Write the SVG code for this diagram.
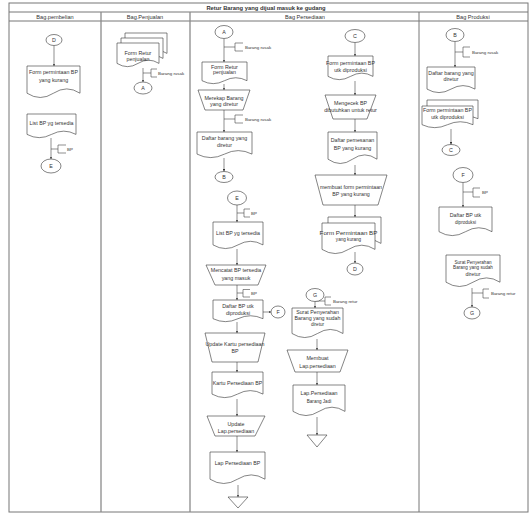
<svg xmlns="http://www.w3.org/2000/svg" width="531" height="515" viewBox="0 0 531 515">
<style>
text{font-family:"Liberation Sans",Arial,sans-serif;fill:#333;text-anchor:middle;font-size:5.3px}
.t{font-size:5.8px;font-weight:bold}
.h{font-size:5.6px}
.s{font-size:4.6px}
.a{font-size:4.4px;text-anchor:start}
.n{fill:#fff;stroke:#333;stroke-width:0.6}
.c{fill:none;stroke:#444;stroke-width:0.6}
.f{fill:none;stroke:#777;stroke-width:1}
.d{fill:none;stroke:#8a8a8a;stroke-width:1.3}
</style>
<defs>
<marker id="ar" viewBox="0 0 6 6" refX="6" refY="3" markerWidth="4" markerHeight="4" orient="auto"><path d="M0 0L6 3L0 6Z" fill="#333"/></marker>
</defs>
<rect width="531" height="515" fill="#fff"/>
<g id="frame">
<rect class="f" x="9" y="3" width="519" height="509"/>
<line class="f" x1="9" y1="12" x2="528" y2="12"/>
<line class="f" x1="9" y1="21" x2="528" y2="21"/>
<line class="d" x1="101" y1="12" x2="101" y2="512"/>
<line class="d" x1="190" y1="12" x2="190" y2="512"/>
<line class="f" x1="419" y1="12" x2="419" y2="512"/>
<text class="t" x="266" y="10">Retur Barang yang dijual masuk ke gudang</text>
<text class="h" x="55" y="18.5">Bag.pembelian</text>
<text class="h" x="145" y="18.5">Bag.Penjualan</text>
<text class="h" x="305" y="18.5">Bag Persediaan</text>
<text class="h" x="473" y="18.5">Bag Produksi</text>
</g>
<g id="connectors">
<line class="c" x1="54" y1="45.5" x2="54" y2="66" marker-end="url(#ar)"/>
<line class="c" x1="51" y1="138" x2="51" y2="159" marker-end="url(#ar)"/>
<line class="c" x1="143" y1="68" x2="143" y2="82" marker-end="url(#ar)"/>
<line class="c" x1="224" y1="38.5" x2="224" y2="62" marker-end="url(#ar)"/>
<line class="c" x1="224" y1="84" x2="224" y2="90" marker-end="url(#ar)"/>
<line class="c" x1="224" y1="110" x2="224" y2="132" marker-end="url(#ar)"/>
<line class="c" x1="224" y1="158" x2="224" y2="171.5" marker-end="url(#ar)"/>
<line class="c" x1="237" y1="205" x2="237" y2="222" marker-end="url(#ar)"/>
<line class="c" x1="237" y1="249" x2="237" y2="265" marker-end="url(#ar)"/>
<line class="c" x1="237" y1="285" x2="237" y2="300" marker-end="url(#ar)"/>
<line class="c" x1="263" y1="312" x2="271" y2="312" marker-end="url(#ar)"/>
<line class="c" x1="237" y1="322" x2="237" y2="333" marker-end="url(#ar)"/>
<line class="c" x1="237" y1="362" x2="237" y2="372" marker-end="url(#ar)"/>
<line class="c" x1="237" y1="399" x2="237" y2="416" marker-end="url(#ar)"/>
<line class="c" x1="237" y1="436" x2="237" y2="452" marker-end="url(#ar)"/>
<line class="c" x1="238" y1="485" x2="238" y2="497" marker-end="url(#ar)"/>
<line class="c" x1="355" y1="42.5" x2="355" y2="56" marker-end="url(#ar)"/>
<line class="c" x1="355" y1="81" x2="355" y2="95" marker-end="url(#ar)"/>
<line class="c" x1="355" y1="119" x2="355" y2="132" marker-end="url(#ar)"/>
<line class="c" x1="355" y1="165" x2="355" y2="175" marker-end="url(#ar)"/>
<line class="c" x1="355" y1="205" x2="355" y2="217" marker-end="url(#ar)"/>
<line class="c" x1="355" y1="252" x2="355" y2="263" marker-end="url(#ar)"/>
<line class="c" x1="315" y1="301.5" x2="315" y2="308" marker-end="url(#ar)"/>
<line class="c" x1="317" y1="339" x2="317" y2="350" marker-end="url(#ar)"/>
<line class="c" x1="317" y1="372" x2="317" y2="385" marker-end="url(#ar)"/>
<line class="c" x1="317" y1="417" x2="317" y2="435" marker-end="url(#ar)"/>
<line class="c" x1="455" y1="41.5" x2="455" y2="67" marker-end="url(#ar)"/>
<line class="c" x1="451" y1="129" x2="451" y2="144.5" marker-end="url(#ar)"/>
<line class="c" x1="463" y1="182.5" x2="463" y2="207" marker-end="url(#ar)"/>
<line class="c" x1="472" y1="288" x2="472" y2="307" marker-end="url(#ar)"/>
</g>
<g id="annotations">
<path class="c" d="M51 149H58M66 145H58V153H66"/><text class="a" x="67" y="150.5">BP</text>
<path class="c" d="M143 73H151M157 69H151V77H157"/><text class="a" x="158" y="74.5">Barang rusak</text>
<path class="c" d="M224 47H235M243 43H235V51H243"/><text class="a" x="245" y="48.5">Barang rusak</text>
<path class="c" d="M224 119H235M243 115H235V123H243"/><text class="a" x="245" y="120.5">Barang rusak</text>
<path class="c" d="M237 213H244M250 209H244V217H250"/><text class="a" x="251" y="214.5">BP</text>
<path class="c" d="M237 293H243M250 289.5H243V297H250"/><text class="a" x="251" y="294.5">BP</text>
<path class="c" d="M315 301H325M331 297H325V305H331"/><text class="a" x="333" y="302.5">Barang retur</text>
<path class="c" d="M455 52H463M470 47H463V57H470"/><text class="a" x="472" y="53.5">Barang rusak</text>
<path class="c" d="M463 192H473M480 188H473V197H480"/><text class="a" x="482" y="193.5">BP</text>
<path class="c" d="M472 293H483M489 289H483V298H489"/><text class="a" x="491" y="294.5">Barang retur</text>
</g>
<g id="pemb-D"><ellipse class="n" cx="54" cy="40" rx="8" ry="5.5"/><text x="54" y="42">D</text></g>
<g id="pemb-form"><path class="n" d="M27 66H80V93.2Q66.75 84.6 53.5 93.2Q40.25 101.8 27 93.2Z"/><text x="53.5" y="73.5">Form permintaan BP</text><text x="53.5" y="81.5">yang kurang</text></g>
<g id="pemb-list"><path class="n" d="M27 114H76V134.4Q63.75 127.9 51.5 134.4Q39.25 140.9 27 134.4Z"/><text x="51.5" y="125">List BP yg tersedia</text></g>
<g id="pemb-E"><ellipse class="n" cx="51" cy="166" rx="10" ry="7"/><text x="51" y="168">E</text></g>
<g id="penj-form">
<path class="n" d="M125 33H167V53.4Q156.5 46.9 146 53.4Q135.5 59.9 125 53.4Z"/>
<path class="n" d="M121 38H163V58.4Q152.5 51.9 142 58.4Q131.5 64.9 121 58.4Z"/>
<path class="n" d="M117 43H159V63.4Q148.5 56.9 138 63.4Q127.5 69.9 117 63.4Z"/>
<text x="138" y="55">Form Retur</text><text x="138" y="61">penjualan</text></g>
<g id="penj-A"><ellipse class="n" cx="143" cy="88" rx="9" ry="6"/><text x="143" y="90">A</text></g>
<g id="pers-A"><ellipse class="n" cx="224" cy="32" rx="9" ry="6.5"/><text x="224" y="34">A</text></g>
<g id="pers-formretur"><path class="n" d="M202 62H247V80.7Q235.75 74.8 224.5 80.7Q213.25 86.6 202 80.7Z"/><text x="224.5" y="68.5">Form Retur</text><text x="224.5" y="74">penjualan</text></g>
<g id="pers-merekap"><path class="n" d="M198 90H250L243 110H205Z"/><text x="224" y="99.5">Merekap Barang</text><text x="224" y="105.5">yang diretur</text></g>
<g id="pers-daftar"><path class="n" d="M197 132H252V154.1Q238.25 147.1 224.5 154.1Q210.75 161.1 197 154.1Z"/><text x="224.5" y="140">Daftar barang yang</text><text x="224.5" y="147">diretur</text></g>
<g id="pers-B"><ellipse class="n" cx="224" cy="177" rx="9" ry="5.5"/><text x="224" y="179">B</text></g>
<g id="pers-E"><ellipse class="n" cx="237" cy="198" rx="9.5" ry="7"/><text x="237" y="200">E</text></g>
<g id="pers-list"><path class="n" d="M213 222H263V244.9Q250.5 237.7 238 244.9Q225.5 252.2 213 244.9Z"/><text x="238" y="235">List BP yg tersedia</text></g>
<g id="pers-mencatat"><path class="n" d="M206 265H266L258 285H215Z"/><text x="236" y="272">Mencatat BP tersedia</text><text x="236" y="279.5">yang masuk</text></g>
<g id="pers-daftarBP"><path class="n" d="M213 300H263V318.7Q250.5 312.8 238 318.7Q225.5 324.6 213 318.7Z"/><text x="238" y="307.5">Daftar BP utk</text><text x="238" y="315">diproduksi</text></g>
<g id="pers-F"><ellipse class="n" cx="278" cy="312" rx="7" ry="6"/><text x="278" y="314">F</text></g>
<g id="pers-updatekartu"><path class="n" d="M205 333H265L258 362H212Z"/><text x="235" y="345.5">Update Kartu persediaan</text><text x="235" y="353">BP</text></g>
<g id="pers-kartu"><path class="n" d="M212 372H263V394.1Q250.25 387.1 237.5 394.1Q224.75 401.1 212 394.1Z"/><text x="237.5" y="385">Kartu Persediaan BP</text></g>
<g id="pers-updatelap"><path class="n" d="M207 416H265L255 436H215Z"/><text x="236" y="426">Update</text><text x="236" y="433">Lap.persediaan</text></g>
<g id="pers-lap"><path class="n" d="M210 452H265V479.2Q251.25 470.6 237.5 479.2Q223.75 487.8 210 479.2Z"/><text x="237.5" y="465">Lap Persediaan BP</text></g>
<g id="pers-end1"><path class="n" d="M228 497H248L238 508Z"/></g>
<g id="pers-C"><ellipse class="n" cx="355" cy="36" rx="10" ry="6.5"/><text x="355" y="38">C</text></g>
<g id="pers-formBP"><path class="n" d="M328 56H373V76.4Q361.75 69.9 350.5 76.4Q339.25 82.9 328 76.4Z"/><text x="350.5" y="65">Form permintaan BP</text><text x="350.5" y="71.5">utk diproduksi</text></g>
<g id="pers-mengecek"><path class="n" d="M325 95H376L367 119H333Z"/><text x="350.5" y="105">Mengecek BP</text><text x="350.5" y="111.5">dibutuhkan untuk retur</text></g>
<g id="pers-daftarpemesanan"><path class="n" d="M328 132H377V159.2Q364.75 150.6 352.5 159.2Q340.25 167.8 328 159.2Z"/><text x="352.5" y="142">Daftar pemesanan</text><text x="352.5" y="150">BP yang kurang</text></g>
<g id="pers-membuatform"><path class="n" d="M315 175H387L378 205H323Z"/><text x="351" y="188.5">membuat form permintaan</text><text x="351" y="195.5">BP yang kurang</text></g>
<g id="pers-formpermintaan">
<path class="n" d="M328 217H381V243.4Q367.75 235 354.5 243.4Q341.25 251.7 328 243.4Z"/>
<path class="n" d="M322 223H375V249.4Q361.75 241 348.5 249.4Q335.25 257.7 322 249.4Z"/>
<text x="348.5" y="235" style="font-size:6.2px">Form Permintaan BP</text><text class="s" x="348.5" y="241">yang kurang</text></g>
<g id="pers-D"><ellipse class="n" cx="355" cy="269" rx="8" ry="6"/><text x="355" y="271">D</text></g>
<g id="pers-G"><ellipse class="n" cx="315" cy="295" rx="9" ry="6.5"/><text x="315" y="297">G</text></g>
<g id="pers-surat"><path class="n" d="M292 308H343V333.5Q330.25 325.4 317.5 333.5Q304.75 341.6 292 333.5Z"/><text x="317.5" y="314">Surat Penyerahan</text><text x="317.5" y="319.5">Barang yang sudah</text><text class="s" x="317.5" y="325.5">diretur</text></g>
<g id="pers-membuatlap"><path class="n" d="M287 350H348L340 372H295Z"/><text x="317.5" y="359.5">Membuat</text><text x="317.5" y="368">Lap.persediaan</text></g>
<g id="pers-lapjadi"><path class="n" d="M293 385H345V411.4Q332 403 319 411.4Q306 419.7 293 411.4Z"/><text x="319" y="395">Lap.Persediaan</text><text class="s" x="319" y="402.5">Barang Jadi</text></g>
<g id="pers-end2"><path class="n" d="M307 435H327L317 447Z"/></g>
<g id="prod-B"><ellipse class="n" cx="455" cy="35" rx="9" ry="6.5"/><text x="455" y="37">B</text></g>
<g id="prod-daftar"><path class="n" d="M427 67H475V89.1Q463 82.1 451 89.1Q439 96.1 427 89.1Z"/><text x="451" y="75">Daftar barang yang</text><text x="451" y="81">diretur</text></g>
<g id="prod-formBP">
<path class="n" d="M427 100H478V118.7Q465.25 112.8 452.5 118.7Q439.75 124.6 427 118.7Z"/>
<path class="n" d="M422 106H473V124.7Q460.25 118.8 447.5 124.7Q434.75 130.6 422 124.7Z"/>
<text x="447.5" y="112">Form permintaan BP</text><text x="447.5" y="119">utk diproduksi</text></g>
<g id="prod-C"><ellipse class="n" cx="451" cy="150" rx="9" ry="5.5"/><text x="451" y="152">C</text></g>
<g id="prod-F"><ellipse class="n" cx="463" cy="175" rx="10" ry="7.5"/><text x="463" y="177">F</text></g>
<g id="prod-daftarBP"><path class="n" d="M439 207H492V231.7Q478.75 223.8 465.5 231.7Q452.25 239.5 439 231.7Z"/><text x="465.5" y="217">Daftar BP utk</text><text class="s" x="465.5" y="224">diproduksi</text></g>
<g id="prod-surat"><path class="n" d="M446 255H500V282.2Q486.5 273.6 473 282.2Q459.5 290.8 446 282.2Z"/><text class="s" x="473" y="263.5">Surat Penyerahan</text><text class="s" x="473" y="269">Barang yang sudah</text><text x="473" y="276">diretur</text></g>
<g id="prod-G"><ellipse class="n" cx="472" cy="313" rx="8" ry="6"/><text x="472" y="315">G</text></g>
</svg>
